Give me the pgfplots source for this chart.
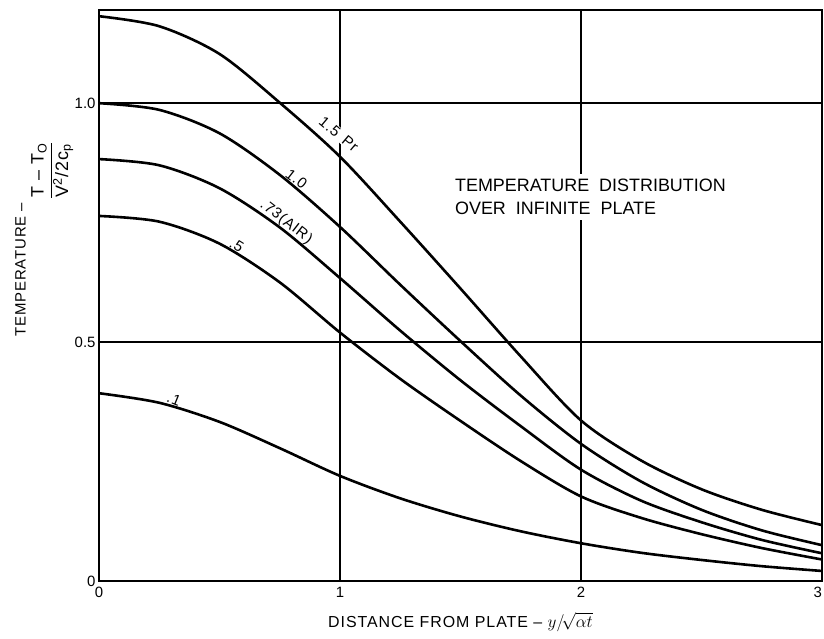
\documentclass[border=0pt]{standalone}
\usepackage{pgfplots}
\pgfplotsset{compat=1.18}
\usepackage{fontspec}
\setmainfont{Liberation Sans}
\newfontfamily\lsfont{Liberation Sans}[LetterSpace=6]
\begin{document}
\begin{tikzpicture}
\useasboundingbox (-99bp,-58bp) rectangle (725bp,581bp);
\begin{axis}[
  scale only axis, width=723bp, height=571bp,
  xmin=0, xmax=3, ymin=0, ymax=1.195,
  xtick={0,1,2,3}, xticklabels={0,1,2,\llap{3}},
  ytick={0,0.5,1}, yticklabels={0,0.5,1.0},
  grid=major, grid style={black, line width=1.4bp},
  axis line style={line width=2.6bp},
  tick style={draw=none},
  ticklabel style={font=\fontsize{15}{17}\selectfont},
  /pgf/number format/assume math mode=true,
  xticklabel style={yshift=-3bp},
  xlabel={DISTANCE FROM PLATE \textendash\ $y/\!\sqrt{\alpha t}$},
  xlabel style={at={(axis description cs:0.5,-0.072)}, anchor=center, font=\lsfont\fontsize{16}{18}\selectfont},
  ylabel={TEMPERATURE \textendash\ \raisebox{-18bp}{\fontsize{18}{20}\selectfont\begin{tabular}[t]{@{}c@{}}T \textendash\ T\textsubscript{O}\\[1bp]\hline\rule{0pt}{17bp}V\textsuperscript{2}/2c\textsubscript{p}\end{tabular}}},
  ylabel style={at={(axis description cs:-0.075,0.597)}, anchor=center, font=\lsfont\fontsize{15}{17}\selectfont},
]
% Pr = 1.5
\addplot[black, line width=2.6bp, smooth] coordinates {
 (0,1.182) (0.25,1.161) (0.5,1.103) (0.75,1.001) (1.0,0.888) (1.25,0.752) (1.5,0.612) (1.75,0.470) (2.0,0.336) (2.25,0.252) (2.5,0.192) (2.75,0.149) (3.0,0.117)};
% Pr = 1.0
\addplot[black, line width=2.6bp, smooth] coordinates {
 (0,1.0) (0.25,0.986) (0.5,0.937) (0.75,0.850) (1.0,0.741) (1.25,0.620) (1.5,0.502) (1.75,0.388) (2.0,0.287) (2.25,0.208) (2.5,0.149) (2.75,0.106) (3.0,0.075)};
% Pr = 0.73
\addplot[black, line width=2.6bp, smooth] coordinates {
 (0,0.883) (0.25,0.870) (0.5,0.822) (0.75,0.740) (1.0,0.634) (1.25,0.524) (1.5,0.420) (1.75,0.324) (2.0,0.233) (2.25,0.168) (2.5,0.123) (2.75,0.086) (3.0,0.058)};
% Pr = 0.5
\addplot[black, line width=2.6bp, smooth] coordinates {
 (0,0.764) (0.25,0.752) (0.5,0.706) (0.75,0.625) (1.0,0.520) (1.25,0.423) (1.5,0.335) (1.75,0.251) (2.0,0.177) (2.25,0.132) (2.5,0.098) (2.75,0.069) (3.0,0.045)};
% Pr = 0.1
\addplot[black, line width=2.6bp, smooth] coordinates {
 (0,0.393) (0.25,0.373) (0.5,0.333) (0.75,0.278) (1.0,0.220) (1.25,0.173) (1.5,0.135) (1.75,0.104) (2.0,0.079) (2.25,0.059) (2.5,0.044) (2.75,0.031) (3.0,0.021)};

\node[rotate=-40, fill=white, inner sep=1bp, font=\lsfont\fontsize{15}{17}\selectfont] at (axis cs:0.995,0.935) {1.5\ \,Pr};
\node[rotate=-38, anchor=south, inner sep=2bp, font=\lsfont\fontsize{15}{17}\selectfont] at (axis cs:0.80,0.829) {1.0};
\node[rotate=-38, anchor=south, inner sep=2bp, font=\lsfont\fontsize{15}{17}\selectfont] at (axis cs:0.753,0.736) {.73(AIR)};
\node[rotate=-32, anchor=south, inner sep=2bp, font=\lsfont\fontsize{15}{17}\selectfont] at (axis cs:0.555,0.689) {.5};
\node[rotate=-22, anchor=south, inner sep=2bp, font=\lsfont\fontsize{15}{17}\selectfont] at (axis cs:0.30,0.366) {.1};
\node[anchor=west, align=left, fill=white, inner sep=5bp, font=\fontsize{18}{23}\selectfont] at (axis cs:1.456,0.804) {TEMPERATURE\ \ DISTRIBUTION\\OVER\ \ INFINITE\ \ PLATE};
\end{axis}
\end{tikzpicture}
\end{document}
